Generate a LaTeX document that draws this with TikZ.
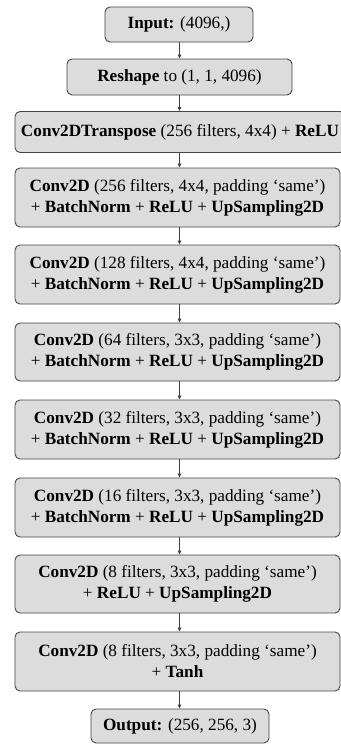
\documentclass[tikz,border=0pt]{standalone}
\usepackage{fontspec}
\setmainfont{Liberation Serif}
\usetikzlibrary{arrows.meta}
\definecolor{boxfill}{HTML}{DCDCDC}
\definecolor{boxline}{HTML}{454545}
\definecolor{arrowline}{HTML}{404040}
\tikzset{
  x=1pt, y=1pt,
  layer/.style={draw=boxline, fill=boxfill, line width=0.9pt, rounded corners=5pt,
    align=center, inner sep=0pt, font=\fontsize{17.2}{21}\selectfont},
  flow/.style={draw=arrowline, line width=0.8pt, -{Triangle[length=4pt,width=3.5pt]}},
}
\begin{document}
\begin{tikzpicture}
\useasboundingbox (0,0) rectangle (340,-744);
\node[layer, minimum width=148, minimum height=35] (in) at (179,-24.5) {\textbf{Input:} (4096,)};
\node[layer, minimum width=225, minimum height=36] (rs) at (179.5,-77) {\textbf{Reshape} to (1, 1, 4096)};
\node[layer, minimum width=330, minimum height=41] (tr) at (180,-132) {\textbf{Conv2DTranspose} (256 filters, 4x4) + \textbf{ReLU}};
\node[layer, minimum width=325, minimum height=59] (c1) at (177.5,-197.5) {\textbf{Conv2D} (256 filters, 4x4, padding ‘same’)\\+ \textbf{BatchNorm} + \textbf{ReLU} + \textbf{UpSampling2D}};
\node[layer, minimum width=325, minimum height=59] (c2) at (177.5,-274.5) {\textbf{Conv2D} (128 filters, 4x4, padding ‘same’)\\+ \textbf{BatchNorm} + \textbf{ReLU} + \textbf{UpSampling2D}};
\node[layer, minimum width=325, minimum height=58] (c3) at (177.5,-352) {\textbf{Conv2D} (64 filters, 3x3, padding ‘same’)\\+ \textbf{BatchNorm} + \textbf{ReLU} + \textbf{UpSampling2D}};
\node[layer, minimum width=325, minimum height=59] (c4) at (177.5,-429.5) {\textbf{Conv2D} (32 filters, 3x3, padding ‘same’)\\+ \textbf{BatchNorm} + \textbf{ReLU} + \textbf{UpSampling2D}};
\node[layer, minimum width=325, minimum height=59] (c5) at (177.5,-507.5) {\textbf{Conv2D} (16 filters, 3x3, padding ‘same’)\\+ \textbf{BatchNorm} + \textbf{ReLU} + \textbf{UpSampling2D}};
\node[layer, minimum width=325, minimum height=58] (c6) at (177.5,-584) {\textbf{Conv2D} (8 filters, 3x3, padding ‘same’)\\+ \textbf{ReLU} + \textbf{UpSampling2D}};
\node[layer, minimum width=325, minimum height=59] (c7) at (177.5,-661.5) {\textbf{Conv2D} (8 filters, 3x3, padding ‘same’)\\+ \textbf{Tanh}};
\node[layer, minimum width=178, minimum height=34] (out) at (180,-726) {\textbf{Output:} (256, 256, 3)};
\foreach \a/\b in {in/rs, rs/tr, tr/c1, c1/c2, c2/c3, c3/c4, c4/c5, c5/c6, c6/c7, c7/out}
  \draw[flow] (\a.south -| 179.5,0) -- (\b.north -| 179.5,0);
\end{tikzpicture}
\end{document}
